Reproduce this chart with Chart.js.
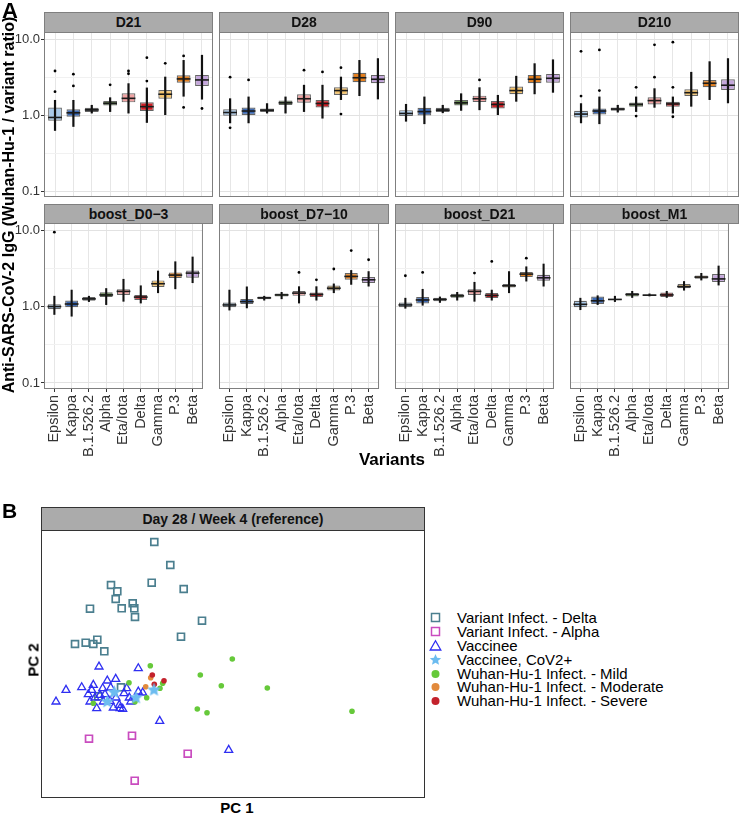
<!DOCTYPE html>
<html><head><meta charset="utf-8">
<script src="https://cdn.jsdelivr.net/npm/chart.js@4.4.0/dist/chart.umd.min.js"></script>
<style>
body{margin:0;background:#fff;width:740px;height:814px;position:relative;overflow:hidden;font-family:"Liberation Sans",Arial,sans-serif;}
canvas{position:absolute;}
.t{position:absolute;white-space:nowrap;color:#000;z-index:5;}
.strip{position:absolute;box-sizing:border-box;background:#ababab;border:1px solid #7f7f7f;font-weight:bold;font-size:14px;color:#111;text-align:center;z-index:5;}
.leg{position:absolute;left:428px;top:611px;z-index:5;font-size:15px;line-height:13.9px;}
.leg div{height:13.9px;white-space:nowrap;position:relative;padding-left:29px;}
.leg svg{position:absolute;left:0;top:0;}
</style></head><body>
<div class="t" style="left:2px;top:-2px;font-size:22px;font-weight:bold;">A</div>
<div class="t" style="left:2px;top:499px;font-size:21px;font-weight:bold;">B</div>
<div class="t" id="ytitle" style="left:9px;top:205px;font-size:16px;font-weight:bold;transform:translate(-50%,-50%) rotate(-90deg);">Anti-SARS-CoV-2 IgG (Wuhan-Hu-1 / variant ratio)</div>
<div class="t" style="left:392px;top:460px;font-size:17px;font-weight:bold;transform:translate(-50%,-50%);">Variants</div>
<div class="t" style="left:237px;top:807px;font-size:15px;font-weight:bold;transform:translate(-50%,-50%);">PC 1</div>
<div class="t" style="left:33px;top:660px;font-size:15px;font-weight:bold;transform:translate(-50%,-50%) rotate(-90deg);">PC 2</div>
<div class="strip" style="left:41px;top:507px;width:384px;height:24px;line-height:22px;font-size:14px;border-color:#333;">Day 28 / Week 4 (reference)</div>
<div class="leg" id="legend"></div>
<script>
// ---------------- Panel A data ----------------
const CATS = ['Epsilon','Kappa','B.1.526.2','Alpha','Eta/Iota','Delta','Gamma','P.3','Beta'];
const FILLS = ['#a9c9e9','#3b69b3','#3c4148','#4a7a2c','#f1a3a3','#cd2026','#f6c46c','#e5801f','#c4a6dc'];
const Y_TICKS = [0.1, 1, 10];
const Y_TICK_LABELS = ['0.1', '1.0', '10.0'];
const Y_MINOR = [0.316, 3.16];

// each box: [whisker low, Q1, median, Q3, whisker high]
const D21_box = [[0.62,0.84,0.93,1.26,1.58],[0.70,0.95,1.07,1.19,1.58],[1.05,1.10,1.17,1.25,1.36],[1.10,1.34,1.43,1.53,1.71],[1.05,1.47,1.66,1.93,2.62],[0.79,1.13,1.29,1.47,2.30],[1.00,1.64,1.88,2.14,3.20],[1.75,2.67,2.99,3.34,5.30],[1.60,2.42,2.90,3.38,6.20]];
const D21_out = [[2.03,3.8],[2.42,3.45],[],[2.5],[3.5,3.8],[2.8,5.7],[4.8],[1.26,6.0],[1.22]];
const D28_box = [[0.78,0.98,1.08,1.19,1.66],[0.78,1.00,1.13,1.26,1.75],[1.05,1.10,1.16,1.22,1.43],[1.05,1.36,1.45,1.55,1.75],[1.10,1.45,1.64,1.88,2.50],[0.90,1.26,1.42,1.58,2.50],[1.58,1.84,2.10,2.32,3.20],[1.78,2.70,3.10,3.60,5.30],[1.61,2.62,2.96,3.38,5.60]];
const D28_out = [[0.68,3.15],[2.9],[],[],[3.9],[3.7],[1.03,4.2],[],[]];
const D90_box = [[0.82,0.97,1.05,1.16,1.40],[0.76,0.99,1.11,1.25,1.75],[1.06,1.10,1.16,1.25,1.36],[1.14,1.34,1.45,1.58,1.93],[1.16,1.48,1.64,1.80,2.32],[1.00,1.22,1.38,1.53,1.84],[1.50,1.88,2.10,2.37,3.28],[1.88,2.62,2.96,3.38,4.80],[1.97,2.67,3.05,3.48,5.40]];
const D90_out = [[],[],[],[],[2.9],[],[],[],[]];
const D210_box = [[0.78,0.93,1.03,1.14,1.43],[0.76,1.02,1.13,1.22,1.75],[1.08,1.14,1.20,1.26,1.36],[1.10,1.29,1.38,1.46,1.75],[1.25,1.38,1.55,1.71,2.25],[1.05,1.29,1.40,1.50,1.75],[1.29,1.78,1.97,2.18,3.70],[1.58,2.32,2.62,2.90,5.10],[1.43,2.14,2.47,2.96,5.60]];
const D210_out = [[1.78,6.9],[2.1,7.2],[],[0.97,2.32],[3.15,8.4],[0.95,2.32,9.1],[],[],[]];
const BD03_box = [[0.78,0.92,1.00,1.07,1.38],[0.74,0.98,1.08,1.20,1.66],[1.15,1.19,1.26,1.33,1.38],[1.05,1.33,1.42,1.54,1.74],[1.16,1.42,1.58,1.69,2.30],[1.10,1.22,1.33,1.42,1.89],[1.50,1.80,1.99,2.20,2.95],[1.69,2.36,2.58,2.80,3.90],[2.03,2.38,2.74,2.97,4.50]];
const BD03_out = [[9.4],[],[],[],[],[],[],[],[]];
const BD710_box = [[0.89,0.98,1.05,1.13,1.66],[0.95,1.08,1.16,1.26,1.83],[1.20,1.25,1.30,1.35,1.38],[1.25,1.35,1.42,1.48,1.55],[1.10,1.38,1.50,1.60,1.84],[1.20,1.33,1.44,1.53,1.84],[1.50,1.62,1.74,1.89,2.00],[1.93,2.24,2.48,2.74,3.00],[1.83,2.03,2.24,2.43,2.90]];
const BD710_out = [[],[],[],[],[2.8],[2.24],[3.1],[5.4],[4.1]];
const BD21_box = [[0.94,0.98,1.05,1.13,1.30],[1.03,1.10,1.22,1.33,1.70],[1.12,1.17,1.24,1.30,1.35],[1.20,1.30,1.38,1.47,1.55],[1.16,1.42,1.58,1.69,2.10],[1.20,1.29,1.40,1.50,1.66],[1.50,1.78,1.87,1.97,2.90],[2.13,2.43,2.66,2.83,3.35],[1.83,2.18,2.38,2.60,3.64]];
const BD21_out = [[2.53],[2.8],[],[],[2.74],[3.9],[],[4.3],[]];
const BM1_box = [[0.90,0.98,1.07,1.19,1.30],[1.05,1.08,1.19,1.35,1.40],[1.15,1.21,1.24,1.26,1.38],[1.30,1.35,1.44,1.50,1.60],[1.36,1.38,1.41,1.44,1.48],[1.30,1.33,1.42,1.53,1.60],[1.62,1.74,1.83,1.97,2.15],[2.20,2.31,2.43,2.55,2.75],[1.89,2.09,2.30,2.66,3.43]];
const BM1_out = [[],[],[],[],[],[],[],[],[]];

const PANEL_NAMES = ['D21','D28','D90','D210','boost_D0\u22123','boost_D7\u221210','boost_D21','boost_M1'];
const PANEL_BOXES = [D21_box, D28_box, D90_box, D210_box, BD03_box, BD710_box, BD21_box, BM1_box];
const PANEL_OUTS = [D21_out, D28_out, D90_out, D210_out, BD03_out, BD710_out, BD21_out, BM1_out];

// ---------------- Panel B data (PC scores) ----------------
const DELTA_PTS = [[113.3,256],[129.3,233],[110.7,215.3],[142.7,209],[70,213],[76.3,206.7],[74.7,199],[49,189.3],[80.7,189.7],[91.7,194.7],[93.3,189.7],[94,181],[161,177.3],[140,161.3],[34,154],[44.7,155.3],[52.3,154],[56.3,158.3],[63.3,146.7],[80,110.7],[57.3,101.7]];
const ALPHA_PTS = [[48,59.3],[91,62.3],[146.7,44.3],[93.7,17.3]];
const VACC_PTS = [[58,131.3],[97.3,129.7],[25,108],[40.7,110.7],[15,96.3],[52.3,113],[66.3,117.3],[74.7,119],[61.7,109.7],[69.7,110.3],[47.3,103.7],[50.7,108],[54,100.3],[49,96.3],[59,103],[64,103.7],[85.7,109.7],[83,104.7],[88.3,100.3],[89.7,96.3],[55.7,89.7],[72.3,90.3],[79,89.7],[81.7,89],[97.3,106.3],[62.3,96.3],[75,100.3],[118.7,77],[187.7,48],[69,97],[78.3,93],[101.7,105.3]];
const VCOV_PTS = [[73.3,105.7],[66.3,96.3],[95,100.3],[113,108]];
const MILD_PTS = [[109.3,132.3],[191.3,139],[159.3,123],[180.3,112.3],[226.3,110],[311,86.7],[156.3,89],[166,85.3],[88,115.3],[105.7,100.3],[119,109.7],[121.7,114.7],[52.3,94.7],[94,96.3]];
const MOD_PTS = [[104.7,111.3],[109.7,120.3]];
const SEV_PTS = [[111.3,123],[123,117.3],[113.3,113.7]];
const GROUP_LABELS = ['Variant Infect. - Delta','Variant Infect. - Alpha','Vaccinee','Vaccinee, CoV2+','Wuhan-Hu-1 Infect. - Mild','Wuhan-Hu-1 Infect. - Moderate','Wuhan-Hu-1 Infect. - Severe'];
const GROUP_COLORS = ['#4b7f8f','#c94cbf','#2f2ff2','#6cbcf0','#66c93a','#e28a3c','#c3222c'];

// ---------------- drawing ----------------
Chart.defaults.font.family = '"Liberation Sans", Arial, sans-serif';
Chart.register({
  id: 'frame',
  afterDraw(chart, args, opts) {
    const a = chart.chartArea, c = chart.ctx;
    c.save();
    c.strokeStyle = opts.color || '#7f7f7f';
    c.lineWidth = opts.width || 1;
    c.strokeRect(a.left + 0.5, a.top + 0.5, a.right - a.left - 1, a.bottom - a.top - 1);
    c.restore();
  }
});

const COL_LEFT = [44, 219, 395, 570];
const COL_W = [169, 170, 169, 169];
const ROW_TOP = [32, 223];
const ROW_H = [165, 166];
const STRIP_TOP = [12, 204];
const PAD = 14;

function isMajor(v) { return Y_TICKS.some(t => Math.abs(t - v) < 1e-9); }

function makePanel(pi) {
  const col = pi % 4, row = Math.floor(pi / 4);
  const showY = col === 0, showX = row === 1;
  const L = COL_LEFT[col], W = COL_W[col], T = ROW_TOP[row], H = ROW_H[row];
  const yw = showY ? 44 : 0, xh = showX ? 80 : 0;
  const padB = showX ? 0 : PAD;
  const strip = document.createElement('div');
  strip.className = 'strip';
  strip.style.cssText = `left:${L}px;top:${STRIP_TOP[row]}px;width:${W}px;height:${T - STRIP_TOP[row] + 1}px;line-height:${T - STRIP_TOP[row] - 1}px;`;
  strip.textContent = PANEL_NAMES[pi];
  document.body.appendChild(strip);

  const cv = document.createElement('canvas');
  cv.width = W + yw; cv.height = H + xh + PAD + padB;
  cv.style.left = (L - yw) + 'px'; cv.style.top = (T - PAD) + 'px';
  document.body.appendChild(cv);
  const box = PANEL_BOXES[pi], out = PANEL_OUTS[pi];
  const dots = [];
  out.forEach((arr, i) => arr.forEach(v => dots.push({x: i, y: v})));

  new Chart(cv, {
    type: 'bar',
    data: {
      datasets: [
        { type: 'scatter', data: dots, pointRadius: 1.4, pointBackgroundColor: '#000', pointBorderWidth: 0, order: 1 },
        { type: 'scatter', data: box.map((b, i) => ({x: i, y: b[2]})), pointStyle: 'line', pointRadius: 6.9,
          pointBorderColor: '#1a1a1a', pointBorderWidth: 1.6, order: 2 },
        { type: 'bar', data: box.map((b, i) => ({x: i, y: [b[0], b[4]]})), backgroundColor: '#111', borderWidth: 0,
          barPercentage: 0.12, categoryPercentage: 1, grouped: false, order: 3 },
        { type: 'bar', data: box.map((b, i) => ({x: i, y: [b[1], b[3]]})), backgroundColor: FILLS,
          borderColor: '#666', borderWidth: 1.2, borderSkipped: false,
          barPercentage: 0.75, categoryPercentage: 1, grouped: false, order: 4 }
      ]
    },
    options: {
      responsive: false, animation: false, events: [],
      layout: { padding: { top: PAD, bottom: padB, left: 0, right: 0 }, autoPadding: false },
      plugins: { legend: { display: false }, tooltip: { enabled: false }, frame: { color: '#7f7f7f' } },
      scales: {
        x: {
          type: 'linear', min: -0.6, max: 8.6, offset: false, bounds: 'data',
          afterBuildTicks: s => { s.ticks = CATS.map((_, i) => ({value: i})); },
          afterFit: s => { s.height = xh; },
          ticks: { display: showX, autoSkip: false, minRotation: 90, maxRotation: 90, padding: 3,
            callback: v => CATS[v], font: { size: 14.5 }, color: '#333' },
          grid: { color: '#e6e6e6', offset: false, drawTicks: showX, tickLength: 3, tickColor: '#333' },
          border: { display: false }
        },
        y: {
          type: 'logarithmic', min: 0.0834, max: 12.4, bounds: 'data',
          afterBuildTicks: s => { s.ticks = [Y_TICKS[0], Y_MINOR[0], Y_TICKS[1], Y_MINOR[1], Y_TICKS[2]].map(v => ({value: v})); },
          afterFit: s => { s.width = yw; },
          ticks: { display: showY, autoSkip: false, padding: 1, font: { size: 13 }, color: '#333',
            callback: v => { const k = Y_TICKS.findIndex(t => Math.abs(t - v) < 1e-9); return k >= 0 ? Y_TICK_LABELS[k] : ''; } },
          grid: { color: c => (c.tick && isMajor(c.tick.value)) ? '#e2e2e2' : '#f1f1f1', drawTicks: showY, tickLength: 3,
            tickColor: c => (c.tick && isMajor(c.tick.value)) ? '#333' : 'rgba(0,0,0,0)' },
          border: { display: false }
        }
      }
    }
  });
}
for (let i = 0; i < 8; i++) makePanel(i);

// ---- Panel B ----
function starCanvas(color, size) {
  const c = document.createElement('canvas');
  c.width = size; c.height = size;
  const g = c.getContext('2d');
  const cx = size / 2, cy = size / 2, R = size / 2 - 0.3, r = R * 0.45;
  g.beginPath();
  for (let k = 0; k < 10; k++) {
    const ang = -Math.PI / 2 + k * Math.PI / 5;
    const rr = k % 2 ? r : R;
    g.lineTo(cx + rr * Math.cos(ang), cy + rr * Math.sin(ang));
  }
  g.closePath(); g.fillStyle = color; g.fill();
  return c;
}
const sc = document.createElement('canvas');
sc.width = 384; sc.height = 268;
sc.style.left = '41px'; sc.style.top = '530px';
document.body.appendChild(sc);
const toXY = arr => arr.map(p => ({x: p[0], y: p[1]}));
new Chart(sc, {
  type: 'scatter',
  data: {
    datasets: [
      { label: GROUP_LABELS[3], data: toXY(VCOV_PTS), pointStyle: starCanvas(GROUP_COLORS[3], 15), order: 1 },
      { label: GROUP_LABELS[6], data: toXY(SEV_PTS), pointRadius: 2.8, pointBackgroundColor: GROUP_COLORS[6], pointBorderWidth: 0, order: 2 },
      { label: GROUP_LABELS[5], data: toXY(MOD_PTS), pointRadius: 2.8, pointBackgroundColor: GROUP_COLORS[5], pointBorderWidth: 0, order: 3 },
      { label: GROUP_LABELS[4], data: toXY(MILD_PTS), pointRadius: 2.8, pointBackgroundColor: GROUP_COLORS[4], pointBorderWidth: 0, order: 4 },
      { label: GROUP_LABELS[2], data: toXY(VACC_PTS), pointStyle: 'triangle', pointRadius: 4.6, pointBackgroundColor: 'rgba(0,0,0,0)',
        pointBorderColor: GROUP_COLORS[2], pointBorderWidth: 1.3, order: 5 },
      { label: GROUP_LABELS[1], data: toXY(ALPHA_PTS), pointStyle: 'rect', pointRadius: 4.9, pointBackgroundColor: 'rgba(0,0,0,0)',
        pointBorderColor: GROUP_COLORS[1], pointBorderWidth: 1.7, order: 6 },
      { label: GROUP_LABELS[0], data: toXY(DELTA_PTS), pointStyle: 'rect', pointRadius: 4.9, pointBackgroundColor: 'rgba(0,0,0,0)',
        pointBorderColor: GROUP_COLORS[0], pointBorderWidth: 1.7, order: 7 }
    ]
  },
  options: {
    responsive: false, animation: false, events: [],
    layout: { padding: 0, autoPadding: false },
    plugins: { legend: { display: false }, tooltip: { enabled: false }, frame: { color: '#333' } },
    scales: {
      x: { type: 'linear', min: 0, max: 384, display: false },
      y: { type: 'linear', min: 0, max: 268, display: false }
    }
  }
});

// HTML legend
const shapes = [
  c => `<rect x="3.5" y="2.5" width="8" height="8" fill="none" stroke="${c}" stroke-width="1.5"/>`,
  c => `<rect x="3.5" y="2.5" width="8" height="8" fill="none" stroke="${c}" stroke-width="1.5"/>`,
  c => `<polygon points="7.5,1.8 12.8,11 2.2,11" fill="none" stroke="${c}" stroke-width="1.3"/>`,
  c => { let p = []; for (let k = 0; k < 10; k++) { const a = -Math.PI/2 + k*Math.PI/5, r = k%2 ? 2.7 : 6; p.push((7.5 + r*Math.cos(a)).toFixed(2) + ',' + (7 + r*Math.sin(a)).toFixed(2)); } return `<polygon points="${p.join(' ')}" fill="${c}"/>`; },
  c => `<circle cx="7.5" cy="7" r="4" fill="${c}"/>`,
  c => `<circle cx="7.5" cy="7" r="4" fill="${c}"/>`,
  c => `<circle cx="7.5" cy="7" r="4" fill="${c}"/>`
];
const leg = document.getElementById('legend');
GROUP_LABELS.forEach((lab, i) => {
  const d = document.createElement('div');
  d.innerHTML = `<svg width="15" height="14" viewBox="0 0 15 14">${shapes[i](GROUP_COLORS[i])}</svg>`;
  d.appendChild(document.createTextNode(lab));
  leg.appendChild(d);
});
</script>
</body></html>
